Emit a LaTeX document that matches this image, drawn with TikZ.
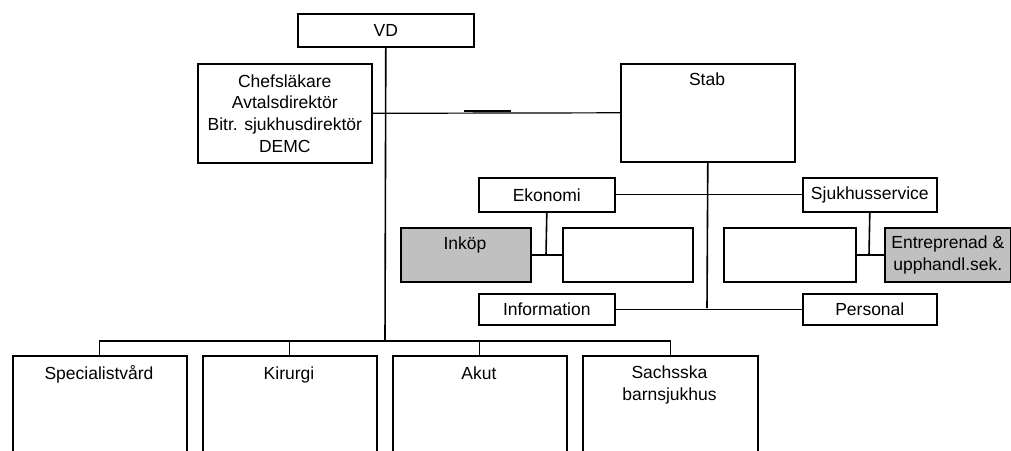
\documentclass[tikz,border=0pt]{standalone}
\usepackage{fontspec}
\setmainfont{Liberation Sans}
\definecolor{boxgrey}{HTML}{C0C0C0}
\begin{document}
\begin{tikzpicture}[x=1pt,y=-1pt,
  box/.style={draw, line width=1.6pt, inner sep=0pt, anchor=north west, fill=white,
    font=\fontsize{17.5}{21.7}\selectfont, align=center},
  greybox/.style={box, fill=boxgrey},
  txt/.style={font=\fontsize{17.5}{21.7}\selectfont, align=center, inner sep=0pt},
  conn/.style={line width=1.6pt},
  thinconn/.style={line width=1.2pt}]
\useasboundingbox (0,0) rectangle (1011,450);
\clip (0,0) rectangle (1011,450);

% top
\node[box, minimum width=176pt, minimum height=33pt] (vd) at (297,13) {VD};
\node[box, minimum width=174pt, minimum height=99pt] (chef) at (197,63)
  {Chefsläkare\\Avtalsdirektör\\Bitr. sjukhusdirektör\\DEMC};
\node[box, minimum width=174pt, minimum height=98pt] (stab) at (620,63) {};
\node[txt, anchor=base] (stabt) at (707,85) {Stab};

% staff units
\node[box, minimum width=136pt, minimum height=34pt] (eko) at (478,177) {Ekonomi};
\node[greybox, minimum width=130pt, minimum height=54pt] (ink) at (400,227) {};
\node[txt, anchor=base] (inkt) at (465,249) {Inköp};
\node[box, minimum width=130pt, minimum height=54pt] (ekoB) at (562,227) {};
\node[box, minimum width=136pt, minimum height=31pt] (info) at (478,293) {Information};

\node[box, minimum width=134pt, minimum height=34pt] (sjs) at (802,177) {Sjukhusservice};
\node[box, minimum width=132pt, minimum height=54pt] (sjsA) at (723,227) {};
\node[greybox, minimum width=126pt, minimum height=54pt] (ent) at (884,227)
  {Entreprenad \&\\upphandl.sek.};
\node[box, minimum width=134pt, minimum height=31pt] (pers) at (802,293) {Personal};

% divisions
\node[box, minimum width=174pt, minimum height=120pt] (spec) at (12,355) {};
\node[txt, anchor=base] (spect) at (99,379) {Specialistvård};
\node[box, minimum width=174pt, minimum height=120pt] (kir) at (202,355) {};
\node[txt, anchor=base] (kirt) at (289,379) {Kirurgi};
\node[box, minimum width=174pt, minimum height=120pt] (akut) at (392,355) {};
\node[txt, anchor=base] (akutt) at (479,379) {Akut};
\node[box, minimum width=175pt, minimum height=120pt] (sach) at (582,355) {};
\node[txt, anchor=north] (sacht) at (669.5,366) {Sachsska\\barnsjukhus};

% connectors
\coordinate (bus) at (385,341);
\coordinate (stabbot) at (707,308);
\coordinate (ekoj) at (546,255);
\coordinate (sjsj) at (869,255);
\coordinate (strayA) at (464,111);
\coordinate (strayB) at (511,111);

\draw[conn] (vd.south) -- (bus);
\draw[thinconn] (chef.east) -- (stab.west);
\draw[thinconn] (strayA) -- (strayB);
\draw[thinconn] (spec.north) -- (spec.north |- bus) -- (sach.north |- bus) -- (sach.north);
\draw[thinconn] (kir.north) -- (kir.north |- bus);
\draw[thinconn] (akut.north) -- (akut.north |- bus);

\draw[conn] (stab.south) -- (stabbot);
\draw[thinconn] (eko.east) -- (eko.east -| stabbot);
\draw[thinconn] (sjs.west) -- (sjs.west -| stabbot);
\draw[thinconn] (info.east) -- (info.east -| stabbot);
\draw[thinconn] (pers.west) -- (pers.west -| stabbot);

\draw[conn] (eko.south) -- (ekoj);
\draw[thinconn] (ink.east |- ekoj) -- (ekoB.west |- ekoj);
\draw[conn] (sjs.south) -- (sjsj);
\draw[thinconn] (sjsA.east |- sjsj) -- (ent.west |- sjsj);
\end{tikzpicture}
\end{document}
